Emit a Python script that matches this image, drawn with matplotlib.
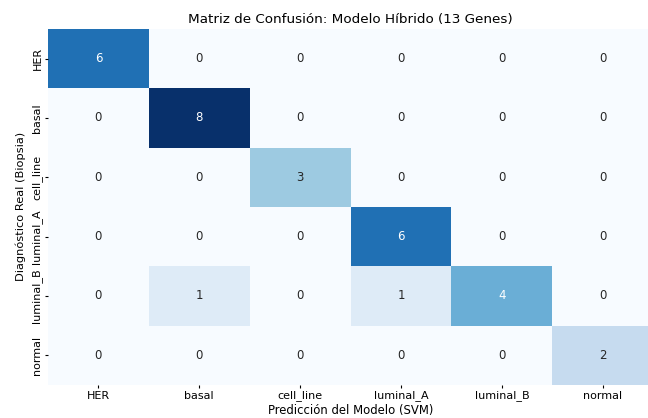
import matplotlib
matplotlib.use("Agg")
import matplotlib.pyplot as plt
import seaborn as sns
import numpy as np

labels = ["HER", "basal", "cell_line", "luminal_A", "luminal_B", "normal"]
conf = np.array([
    [6, 0, 0, 0, 0, 0],
    [0, 8, 0, 0, 0, 0],
    [0, 0, 3, 0, 0, 0],
    [0, 0, 0, 6, 0, 0],
    [0, 1, 0, 1, 4, 0],
    [0, 0, 0, 0, 0, 2],
])

fig, ax = plt.subplots(figsize=(6.48, 4.18), dpi=100)
sns.heatmap(conf, annot=True, fmt="d", cmap="Blues", cbar=False,
            xticklabels=labels, yticklabels=labels, ax=ax,
            annot_kws={"fontsize": 8.5})
ax.set_title("Matriz de Confusión: Modelo Híbrido (13 Genes)", fontsize=9.7, pad=4)
ax.set_xlabel("Predicción del Modelo (SVM)", fontsize=8.4, labelpad=1.5)
ax.set_ylabel("Diagnóstico Real (Biopsia)", fontsize=8.2, labelpad=4)
ax.tick_params(axis="x", labelsize=8, length=2.5, pad=1.5)
ax.tick_params(axis="y", labelsize=8, length=2.5, pad=1.5)
plt.setp(ax.get_yticklabels(), rotation=90, va="center")
fig.subplots_adjust(left=0.074, right=1.008, top=0.931, bottom=0.079)
fig.savefig("out.png", dpi=100)
